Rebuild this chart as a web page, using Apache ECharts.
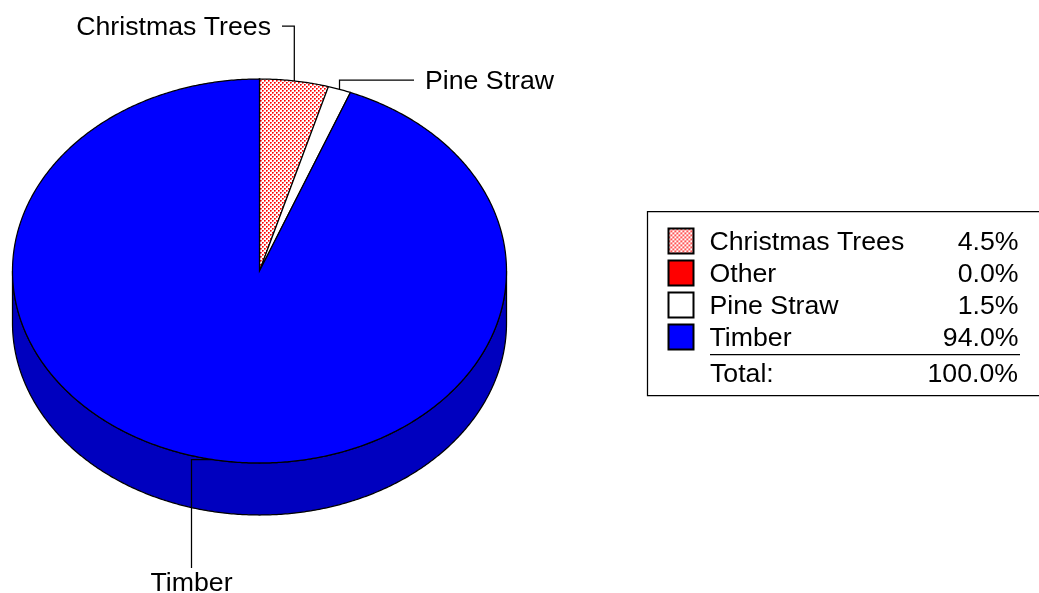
<!DOCTYPE html>
<html>
<head>
<meta charset="utf-8">
<style>html,body{margin:0;padding:0;background:#fff}#c{width:1039px;height:593px}</style>
<script src="https://cdn.jsdelivr.net/npm/echarts@6/dist/echarts.min.js"></script>
</head>
<body>
<div id="c"></div>
<script>
// ---- data ----
var categories = ['Christmas Trees', 'Other', 'Pine Straw', 'Timber'];
var shares = [4.5, 0.0, 1.5, 94.0];
var totalLabel = 'Total:';
var totalValue = 100.0;
var labelled = ['Christmas Trees', 'Pine Straw', 'Timber'];

// ---- layout & style ----
var FONT = '"Liberation Sans", Arial, sans-serif';
var FS = 26.7;
var LW = 1.25;
var CX = 259.5, CY = 271, RX = 247, RY = 192, DEPTH = 52;
var WALL = '#0000BF';

function checker() {
  var cv = document.createElement('canvas');
  cv.width = 4; cv.height = 4;
  var g = cv.getContext('2d');
  g.fillStyle = '#fff'; g.fillRect(0, 0, 4, 4);
  [[0, 0], [2, 2]].forEach(function (p) {
    g.fillStyle = '#ff0000'; g.fillRect(p[0], p[1], 1, 1);
    g.fillStyle = '#ff5050'; g.fillRect(p[0] + 1, p[1], 1, 1); g.fillRect(p[0], p[1] + 1, 1, 1);
    g.fillStyle = '#ffb0b0'; g.fillRect(p[0] + 1, p[1] + 1, 1, 1);
  });
  return cv;
}
var fills = [{ image: checker(), repeat: 'repeat' }, '#ff0000', '#ffffff', '#0000ff'];
var walls = ['#c06060', '#c00000', '#bfbfbf', WALL];

// leader routing per category (anchor is computed from the data)
var leaders = {
  'Christmas Trees': { path: function (a) { return [a, [a[0], 26], [282, 26]]; }, text: [271, 27.5], align: 'right' },
  'Pine Straw': { path: function (a) { return [a, [a[0], 80], [414, 80]]; }, text: [425, 81.5], align: 'left' },
  'Timber': { path: function (a) { return [a, [191.5, a[1]], [191.5, 568]]; }, text: [191.5, 583.5], align: 'center' }
};

function pt(theta, dy) {
  return [CX + RX * Math.sin(theta), CY - RY * Math.cos(theta) + (dy || 0)];
}
function arc(a, b, dy) {
  var out = [], n = Math.max(1, Math.ceil(Math.abs(b - a) / (Math.PI / 360)));
  for (var i = 0; i <= n; i++) out.push(pt(a + (b - a) * i / n, dy));
  return out;
}
function sumTo(i) {
  var s = 0;
  for (var k = 0; k < i; k++) s += shares[k];
  return s;
}

var series = categories.map(function (name, idx) {
  return {
    type: 'custom',
    name: name,
    coordinateSystem: 'none',
    silent: true,
    z: 2,
    itemStyle: { color: fills[idx], borderColor: '#000', borderWidth: 1 },
    data: [shares[idx]],
    renderItem: function () {
      var v = shares[idx];
      var a = sumTo(idx) / totalValue * 2 * Math.PI;
      var b = a + v / totalValue * 2 * Math.PI;
      var children = [];
      if (v > 0) {
        // side wall: the part of the slice on the front half
        var wa = Math.max(a, Math.PI / 2), wb = Math.min(b, 3 * Math.PI / 2);
        if (wb > wa) {
          var top = arc(wa, wb, 0), bot = arc(wb, wa, DEPTH);
          children.push({
            type: 'polygon', shape: { points: top.concat(bot) },
            style: { fill: walls[idx], stroke: '#000', lineWidth: LW }
          });
        }
        children.push({
          type: 'polygon', shape: { points: [[CX, CY]].concat(arc(a, b, 0)) },
          style: { fill: fills[idx], stroke: '#000', lineWidth: LW }
        });
        var lead = leaders[name];
        if (labelled.indexOf(name) >= 0 && lead) {
          var anchor = pt((a + b) / 2, 0);
          children.push({
            type: 'polyline', z2: 5, shape: { points: lead.path(anchor) },
            style: { fill: null, stroke: '#000', lineWidth: LW }
          });
          children.push({
            type: 'text', z2: 5,
            style: {
              x: lead.text[0], y: lead.text[1], text: name, fill: '#000',
              font: FS + 'px ' + FONT, align: lead.align, verticalAlign: 'middle'
            }
          });
        }
      }
      return { type: 'group', children: children };
    }
  };
});

var chart = echarts.init(document.getElementById('c'), null, { renderer: 'canvas' });
chart.setOption({
  animation: false,
  backgroundColor: '#fff',
  legend: {
    orient: 'vertical',
    left: 647.5,
    top: 211.5,
    padding: [16, 30, 43, 20],
    itemWidth: 25,
    itemHeight: 25,
    itemGap: 3,
    icon: 'rect',
    borderColor: '#000',
    borderWidth: LW,
    selectedMode: false,
    data: categories,
    formatter: function (n) {
      return '{n|' + n + '}{v|' + shares[categories.indexOf(n)].toFixed(1) + '%}';
    },
    textStyle: {
      rich: {
        n: { width: 225, padding: [4, 0, 0, 11], fontFamily: FONT, fontSize: FS, color: '#000', align: 'left' },
        v: { width: 84, padding: [4, 0, 0, 0], fontFamily: FONT, fontSize: FS, color: '#000', align: 'right' }
      }
    }
  },
  graphic: [
    { type: 'line', z: 10, shape: { x1: 710, y1: 354.5, x2: 1020, y2: 354.5 }, style: { stroke: '#000', lineWidth: LW } },
    { type: 'text', z: 10, style: { x: 710, y: 375, text: totalLabel, fill: '#000', font: FS + 'px ' + FONT, align: 'left', verticalAlign: 'middle' } },
    { type: 'text', z: 10, style: { x: 1018, y: 375, text: totalValue.toFixed(1) + '%', fill: '#000', font: FS + 'px ' + FONT, align: 'right', verticalAlign: 'middle' } }
  ],
  series: series
});
</script>
</body>
</html>
